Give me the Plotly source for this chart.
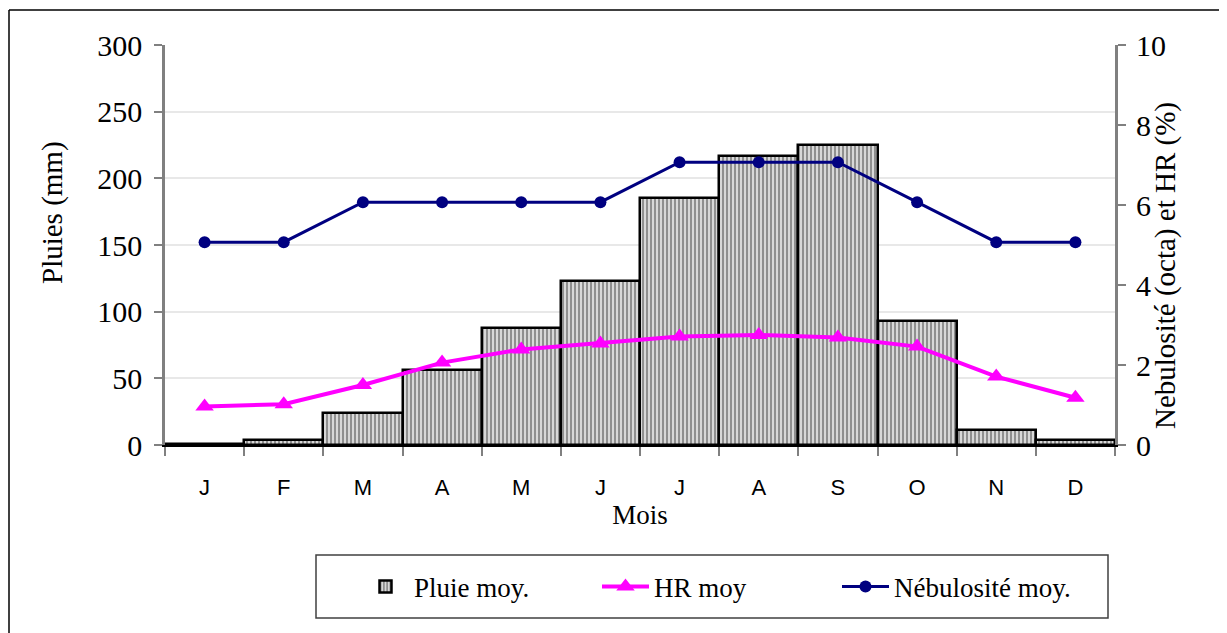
import plotly.graph_objects as go

months = ["J", "F", "M", "A", "M", "J", "J", "A", "S", "O", "N", "D"]
pluie = [1, 4, 24, 56, 88, 123, 185, 217, 225, 93, 11, 4]
hr = [0.96, 1.02, 1.5, 2.06, 2.39, 2.54, 2.71, 2.75, 2.69, 2.46, 1.71, 1.18]
nebulosite = [5.07, 5.07, 6.07, 6.07, 6.07, 6.07, 7.07, 7.07, 7.07, 6.07, 5.07, 5.07]

x = list(range(len(months)))
SERIF = "Liberation Serif, Times New Roman, serif"
SANS = "Liberation Sans, Arial, sans-serif"

fig = go.Figure()
fig.add_trace(go.Bar(
    x=x, y=pluie, name="Pluie moy.", width=1,
    marker=dict(color="#c8c8c8", line=dict(color="black", width=2.5),
                pattern=dict(shape="|", size=4, solidity=0.5,
                             fgcolor="#454545", bgcolor="#d8d8d8")),
))
fig.add_trace(go.Scatter(
    x=x, y=hr, name="HR moy", yaxis="y2", mode="lines+markers",
    line=dict(color="#ff00ff", width=4),
    marker=dict(symbol="triangle-up", size=16, color="#ff00ff"),
))
fig.add_trace(go.Scatter(
    x=x, y=nebulosite, name="Nébulosité moy.", yaxis="y2", mode="lines+markers",
    line=dict(color="#000080", width=3),
    marker=dict(symbol="circle", size=12, color="#000080"),
))

def px_x(p):
    return (p - 165) / 950.0

def px_y(p):
    return (445 - p) / 400.0

fig.update_layout(
    width=1219, height=625,
    margin=dict(l=157, r=112, t=37, b=188),
    paper_bgcolor="white", plot_bgcolor="white",
    font=dict(family=SERIF, size=26, color="black"),
    bargap=0,
    showlegend=True,
    legend=dict(
        orientation="h", x=px_x(357), y=px_y(587), xanchor="left", yanchor="middle",
        borderwidth=0, bgcolor="rgba(0,0,0,0)", itemwidth=47,
        font=dict(family=SERIF, size=27), entrywidth=178, entrywidthmode="pixels",
        traceorder="normal",
    ),
    xaxis=dict(
        range=[-0.5, 11.5], tickmode="array", tickvals=x, ticktext=months,
        ticks="", tickfont=dict(family=SANS, size=22), ticklabelstandoff=22,
        showline=True, linecolor="black", linewidth=1.5, showgrid=False, zeroline=False,
        minor=dict(tickmode="linear", tick0=-0.5, dtick=1, ticks="outside",
                   ticklen=9, tickcolor="#808080", tickwidth=1.5, showgrid=False),
        title=dict(text="Mois", font=dict(family=SERIF, size=27), standoff=6),
    ),
    yaxis=dict(
        range=[0, 300], dtick=50, ticks="outside", ticklen=8, tickcolor="#808080",
        tickwidth=1.5, showline=True, linecolor="#808080", linewidth=2.5,
        showgrid=True, gridcolor="#e8e8e8", gridwidth=1.5, zeroline=False,
        tickfont=dict(family=SERIF, size=30), ticklabelstandoff=6,
    ),
    yaxis2=dict(
        range=[0, 10], dtick=2, overlaying="y", side="right",
        ticks="outside", ticklen=8, tickcolor="#808080", tickwidth=1.5,
        showline=True, linecolor="#808080", linewidth=3, showgrid=False, zeroline=False,
        tickfont=dict(family=SERIF, size=30), ticklabelstandoff=4,
    ),
    annotations=[
        dict(text="Pluies (mm)", xref="paper", yref="paper", x=px_x(52), y=px_y(213),
             textangle=-90, showarrow=False, xanchor="center", yanchor="middle",
             font=dict(family=SERIF, size=29)),
        dict(text="Nebulosité (octa) et HR (%)", xref="paper", yref="paper",
             x=px_x(1165), y=px_y(266), textangle=-90, showarrow=False,
             xanchor="center", yanchor="middle", font=dict(family=SERIF, size=29)),
    ],
    shapes=[
        dict(type="line", xref="paper", yref="paper", x0=px_x(9), x1=1.2, y0=px_y(10), y1=px_y(10),
             line=dict(color="black", width=1.5)),
        dict(type="line", xref="paper", yref="paper", x0=px_x(9), x1=px_x(9), y0=px_y(10), y1=-0.6,
             line=dict(color="black", width=1.5)),
        dict(type="rect", xref="paper", yref="paper", x0=px_x(316), x1=px_x(1108),
             y0=px_y(618), y1=px_y(555), line=dict(color="#404040", width=1.5)),
    ],
)

fig.write_html("out.html")
